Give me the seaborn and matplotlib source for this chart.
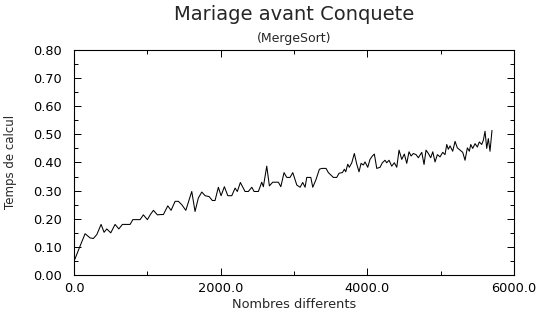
import numpy as np
import pandas as pd
import seaborn as sns
import matplotlib.pyplot as plt
from matplotlib.ticker import MultipleLocator, FormatStrFormatter

# values
nombres = [10, 72, 150, 218, 263, 310, 368, 409, 446, 500, 559, 610, 659, 709, 764,
           801, 852, 900, 945, 1000, 1040, 1082, 1136, 1180, 1218, 1278, 1323, 1378,
           1423, 1469, 1524, 1605, 1650, 1695, 1742, 1787, 1841, 1886, 1923, 1968,
           2005, 2050, 2097, 2151, 2196, 2227, 2268, 2332, 2377, 2424, 2455, 2514,
           2560, 2582, 2628, 2664, 2710, 2750, 2787, 2820, 2864, 2901, 2946, 2983,
           3038, 3083, 3119, 3151, 3174, 3229, 3256, 3301, 3346, 3379, 3437, 3469,
           3537, 3583, 3615, 3660, 3687, 3706, 3733, 3755, 3788, 3823, 3856, 3887,
           3915, 3946, 3969, 4006, 4037, 4069, 4096, 4129, 4174, 4205, 4242, 4265,
           4297, 4333, 4369, 4402, 4433, 4470, 4505, 4538, 4569, 4597, 4628, 4665,
           4696, 4743, 4774, 4801, 4833, 4865, 4893, 4924, 4956, 4992, 5029, 5060,
           5084, 5105, 5129, 5165, 5197, 5228, 5265, 5302, 5333, 5365, 5392, 5411,
           5438, 5470, 5501, 5528, 5561, 5583, 5606, 5629, 5651, 5674, 5701]
temps = [0.056, 0.097, 0.147, 0.132, 0.130, 0.144, 0.180, 0.152, 0.164, 0.150, 0.180,
         0.164, 0.180, 0.180, 0.180, 0.197, 0.197, 0.197, 0.214, 0.197, 0.215, 0.230,
         0.214, 0.215, 0.215, 0.246, 0.230, 0.262, 0.262, 0.250, 0.230, 0.297, 0.226,
         0.274, 0.295, 0.282, 0.279, 0.265, 0.265, 0.312, 0.282, 0.314, 0.282, 0.282,
         0.309, 0.297, 0.329, 0.297, 0.297, 0.312, 0.297, 0.297, 0.330, 0.314, 0.387,
         0.317, 0.330, 0.330, 0.330, 0.314, 0.364, 0.347, 0.347, 0.364, 0.320, 0.312,
         0.329, 0.312, 0.347, 0.347, 0.312, 0.340, 0.376, 0.379, 0.379, 0.364, 0.347,
         0.347, 0.362, 0.364, 0.376, 0.367, 0.394, 0.383, 0.399, 0.432, 0.394, 0.367,
         0.397, 0.391, 0.402, 0.383, 0.411, 0.423, 0.430, 0.379, 0.383, 0.399, 0.408,
         0.399, 0.408, 0.387, 0.399, 0.383, 0.444, 0.411, 0.430, 0.397, 0.438, 0.423,
         0.432, 0.428, 0.417, 0.436, 0.393, 0.444, 0.432, 0.417, 0.438, 0.402, 0.428,
         0.420, 0.436, 0.428, 0.464, 0.447, 0.459, 0.440, 0.475, 0.452, 0.444, 0.436,
         0.408, 0.452, 0.440, 0.464, 0.450, 0.467, 0.455, 0.473, 0.464, 0.479, 0.511,
         0.450, 0.485, 0.440, 0.514]

df = pd.DataFrame({"Nombres differents": nombres, "Temps de calcul": temps})

sns.set_style("ticks")
plt.rcParams["font.family"] = ["DejaVu Sans"]

fig = plt.figure(figsize=(5.37, 3.18), dpi=100)
ax = fig.add_axes([0.138, 0.135, 0.819, 0.708])

sns.lineplot(data=df, x="Nombres differents", y="Temps de calcul", ax=ax,
             color="black", linewidth=0.75)

ax.set_xlim(0, 6000)
ax.set_ylim(0, 0.8)
ax.xaxis.set_major_locator(MultipleLocator(2000))
ax.xaxis.set_minor_locator(MultipleLocator(1000))
ax.yaxis.set_major_locator(MultipleLocator(0.1))
ax.yaxis.set_minor_locator(MultipleLocator(0.05))
ax.xaxis.set_major_formatter(FormatStrFormatter("%.1f"))
ax.yaxis.set_major_formatter(FormatStrFormatter("%.2f"))

for s in ax.spines.values():
    s.set_visible(True)
    s.set_color("black")
    s.set_linewidth(0.8)

ax.tick_params(which="both", direction="in", top=True, right=True, colors="black",
               width=0.7, labelsize=9.3)
ax.tick_params(which="major", length=5)
ax.tick_params(which="minor", length=3)
ax.tick_params(axis="x", pad=5)
ax.tick_params(axis="y", pad=9)

ax.set_xlabel("Nombres differents", fontsize=9.3, labelpad=2)
ax.set_ylabel("")
fig.text(0.02, 0.49, "Temps de calcul", rotation=90, fontsize=8.5,
         ha="center", va="center")

fig.text(0.547, 0.953, "Mariage avant Conquete", fontsize=14, ha="center", va="center")
fig.text(0.547, 0.88, "(MergeSort)", fontsize=9, ha="center", va="center")

fig.savefig("out.png", dpi=100)
